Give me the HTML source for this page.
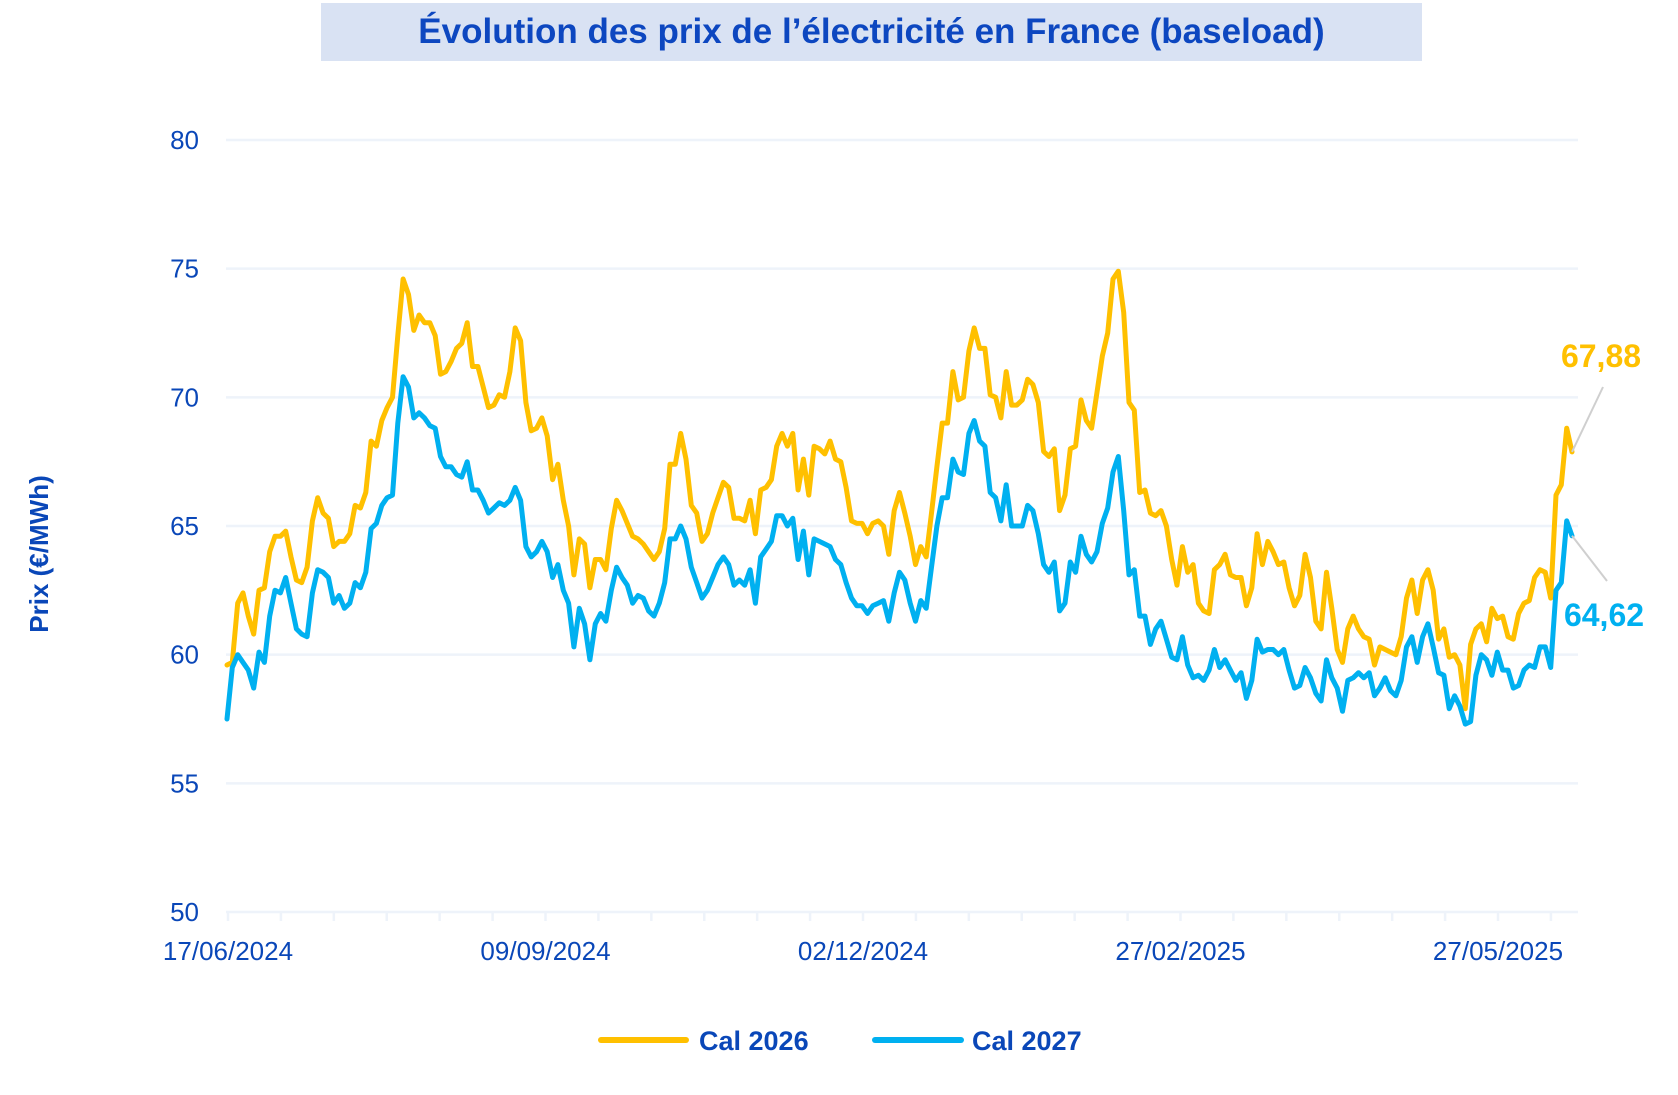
<!DOCTYPE html>
<html><head><meta charset="utf-8"><style>
html,body{margin:0;padding:0;background:#fff;}
body{width:1678px;height:1095px;overflow:hidden;position:relative;font-family:"Liberation Sans",Arial,sans-serif;}
#title{position:absolute;left:321px;top:3px;width:1101px;height:58px;background:#d9e2f3;color:#0d47c0;font-weight:bold;font-size:35px;line-height:58px;text-align:center;}
svg{position:absolute;left:0;top:0;}
</style></head><body>
<div id="title">Évolution des prix de l’électricité en France (baseload)</div>
<svg id="chart" width="1678" height="1095"></svg>
<script>
const yTicks=[50,55,60,65,70,75,80];
const xLabels=["17/06/2024","09/09/2024","02/12/2024","27/02/2025","27/05/2025"];
const cal2026=[59.6,59.7,62,62.4,61.5,60.8,62.5,62.6,64,64.6,64.6,64.8,63.8,62.9,62.8,63.4,65.2,66.1,65.5,65.3,64.2,64.4,64.4,64.7,65.8,65.7,66.3,68.3,68.1,69.1,69.6,70,72.4,74.6,74,72.6,73.2,72.9,72.9,72.4,70.9,71,71.4,71.9,72.1,72.9,71.2,71.2,70.4,69.6,69.7,70.1,70,71,72.7,72.2,69.8,68.7,68.8,69.2,68.5,66.8,67.4,66,65,63.1,64.5,64.3,62.6,63.7,63.7,63.3,64.9,66,65.6,65.1,64.6,64.5,64.3,64,63.7,64,64.9,67.4,67.4,68.6,67.6,65.8,65.5,64.4,64.7,65.5,66.1,66.7,66.5,65.3,65.3,65.2,66,64.7,66.4,66.5,66.8,68.1,68.6,68.1,68.6,66.4,67.6,66.2,68.1,68,67.8,68.3,67.6,67.5,66.5,65.2,65.1,65.1,64.7,65.1,65.2,65,63.9,65.6,66.3,65.5,64.6,63.5,64.2,63.8,65.5,67.3,69,69,71,69.9,70,71.8,72.7,71.9,71.9,70.1,70,69.2,71,69.7,69.7,69.9,70.7,70.5,69.8,67.9,67.7,68,65.6,66.2,68,68.1,69.9,69.1,68.8,70.2,71.6,72.5,74.6,74.9,73.3,69.8,69.5,66.3,66.4,65.5,65.4,65.6,65,63.7,62.7,64.2,63.2,63.5,62,61.7,61.6,63.3,63.5,63.9,63.1,63,63,61.9,62.6,64.7,63.5,64.4,64,63.5,63.6,62.6,61.9,62.3,63.9,63,61.3,61,63.2,61.8,60.2,59.7,61,61.5,61,60.7,60.6,59.6,60.3,60.2,60.1,60,60.7,62.2,62.9,61.6,62.9,63.3,62.5,60.6,61,59.9,60,59.6,57.9,60.4,61,61.2,60.5,61.8,61.4,61.5,60.7,60.6,61.6,62,62.1,63,63.3,63.2,62.2,66.2,66.6,68.8,67.88];
const cal2027=[57.5,59.5,60,59.7,59.4,58.7,60.1,59.7,61.5,62.5,62.4,63,62,61,60.8,60.7,62.4,63.3,63.2,63,62,62.3,61.8,62,62.8,62.6,63.2,64.9,65.1,65.8,66.1,66.2,69,70.8,70.4,69.2,69.4,69.2,68.9,68.8,67.7,67.3,67.3,67,66.9,67.5,66.4,66.4,66,65.5,65.7,65.9,65.8,66,66.5,66,64.2,63.8,64,64.4,64,63,63.5,62.5,62,60.3,61.8,61.2,59.8,61.2,61.6,61.3,62.5,63.4,63,62.7,62,62.3,62.2,61.7,61.5,62,62.8,64.5,64.5,65,64.5,63.4,62.8,62.2,62.5,63,63.5,63.8,63.5,62.7,62.9,62.7,63.3,62,63.8,64.1,64.4,65.4,65.4,65,65.3,63.7,64.8,63.1,64.5,64.4,64.3,64.2,63.7,63.5,62.8,62.2,61.9,61.9,61.6,61.9,62,62.1,61.3,62.4,63.2,62.9,62,61.3,62.1,61.8,63.4,65,66.1,66.1,67.6,67.1,67,68.6,69.1,68.3,68.1,66.3,66.1,65.2,66.6,65,65,65,65.8,65.6,64.7,63.5,63.2,63.6,61.7,62,63.6,63.2,64.6,63.9,63.6,64,65.1,65.7,67.1,67.7,65.6,63.1,63.3,61.5,61.5,60.4,61,61.3,60.6,59.9,59.8,60.7,59.6,59.1,59.2,59,59.4,60.2,59.5,59.8,59.4,59,59.3,58.3,59,60.6,60.1,60.2,60.2,60,60.2,59.4,58.7,58.8,59.5,59.1,58.5,58.2,59.8,59.1,58.7,57.8,59,59.1,59.3,59.1,59.3,58.4,58.7,59.1,58.6,58.4,59,60.3,60.7,59.7,60.7,61.2,60.3,59.3,59.2,57.9,58.4,58,57.3,57.4,59.2,60,59.8,59.2,60.1,59.4,59.4,58.7,58.8,59.4,59.6,59.5,60.3,60.3,59.5,62.5,62.8,65.2,64.62];

const NS="http://www.w3.org/2000/svg";
const svg=document.getElementById('chart');
const X0=226,X1=1578,DX0=227,DX1=1572,Y0=912,Y1=140,VMIN=50,VMAX=80;
const yScale=v=>Y0-(v-VMIN)/(VMAX-VMIN)*(Y0-Y1);
const xScale=(i,n)=>DX0+i*(DX1-DX0)/(n-1);
function mk(tag,attrs){const e=document.createElementNS(NS,tag);for(const k in attrs)e.setAttribute(k,attrs[k]);svg.appendChild(e);return e;}
const blue="#0a47b8";
yTicks.forEach(v=>{
  const g=mk('line',{x1:X0,x2:X1,y1:yScale(v),y2:yScale(v),stroke:'#eef3fa','stroke-width':2.5});
  
  
  const t=mk('text',{x:199,y:yScale(v)+9,'text-anchor':'end','font-size':26,fill:blue});
  t.textContent=v;
  
  
});
// minor ticks every ~53px, labels every 6 ticks
const tickStep=(1498-228)/24;
for(let k=0;k<=25;k++){
  const x=228+k*tickStep; if(x>X1) break;
  const tk=mk('line',{x1:x,x2:x,y1:Y0,y2:Y0+9,stroke:'#eef3fa','stroke-width':2.5});
  
  
}
xLabels.forEach((lab,i)=>{
  const t=mk('text',{x:228+i*6*tickStep,y:960,'text-anchor':'middle','font-size':26,fill:blue});
  t.textContent=lab;
  
  
});
const yt=mk('text',{x:0,y:0,'text-anchor':'middle','font-size':26,'font-weight':'bold',fill:blue,transform:'translate(48,554) rotate(-90)'});
yt.textContent='Prix (€/MWh)';


function series(arr,color,name){
  const pts=arr.map((v,i)=>xScale(i,arr.length).toFixed(1)+','+yScale(v).toFixed(1)).join(' ');
  const p=mk('polyline',{points:pts,fill:'none',stroke:color,'stroke-width':5,'stroke-linejoin':'round','stroke-linecap':'round'});
  
  
}
series(cal2026,'#ffc000','line-cal-2026');
series(cal2027,'#00b0f0','line-cal-2027');
// end labels
const n26=cal2026.length,n27=cal2027.length;
const l1=mk('line',{x1:xScale(n26-1,n26),y1:yScale(cal2026[n26-1]),x2:1603,y2:387,stroke:'#cfcfcf','stroke-width':2});


const l2=mk('line',{x1:xScale(n27-1,n27),y1:yScale(cal2027[n27-1]),x2:1607,y2:581,stroke:'#cfcfcf','stroke-width':2});


const v1=mk('text',{x:1601,y:367,'text-anchor':'middle','font-size':32,'font-weight':'bold',fill:'#ffc000'});
v1.textContent=cal2026[n26-1].toFixed(2).replace('.',',');


const v2=mk('text',{x:1604,y:626,'text-anchor':'middle','font-size':32,'font-weight':'bold',fill:'#00b0f0'});
v2.textContent=cal2027[n27-1].toFixed(2).replace('.',',');


// legend
const lg1=mk('line',{x1:601,x2:686,y1:1040,y2:1040,stroke:'#ffc000','stroke-width':6,'stroke-linecap':'round'});


const lt1=mk('text',{x:699,y:1050,'font-size':27,'font-weight':'bold',fill:blue});
lt1.textContent='Cal 2026';


const lg2=mk('line',{x1:875,x2:961,y1:1040,y2:1040,stroke:'#00b0f0','stroke-width':6,'stroke-linecap':'round'});


const lt2=mk('text',{x:972,y:1050,'font-size':27,'font-weight':'bold',fill:blue});
lt2.textContent='Cal 2027';


</script>
</body></html>
